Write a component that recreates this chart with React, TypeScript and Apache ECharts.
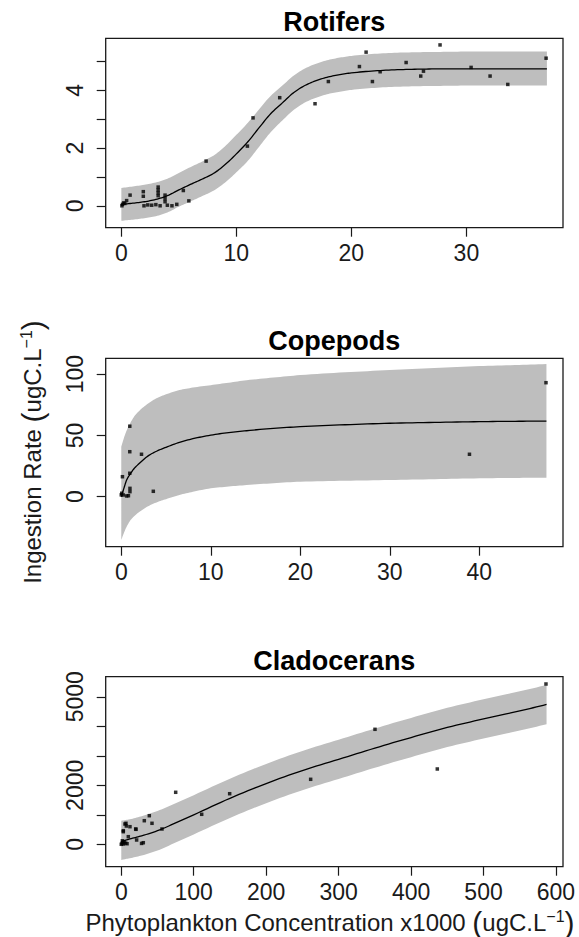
import React, { useEffect, useRef } from "react";
import * as echarts from "echarts";

// ---------- Rotifers ----------
const rotX = [0, 1, 2, 3, 4, 5, 6, 7, 8, 9, 10, 11, 12, 13, 14, 15, 16, 17, 18, 19, 20, 22, 24, 26, 28, 30, 33, 37];
const rotFit = [0.05, 0.09, 0.14, 0.22, 0.35, 0.55, 0.74, 0.92, 1.12, 1.42, 1.8, 2.22, 2.72, 3.2, 3.57, 3.93, 4.18, 4.35, 4.47, 4.55, 4.61, 4.68, 4.72, 4.74, 4.75, 4.75, 4.75, 4.75];
const rotUpper = [0.62, 0.67, 0.73, 0.81, 0.94, 1.14, 1.34, 1.53, 1.74, 2.06, 2.46, 2.88, 3.36, 3.82, 4.17, 4.52, 4.77, 4.94, 5.06, 5.14, 5.2, 5.27, 5.31, 5.33, 5.34, 5.35, 5.35, 5.35];
const rotLower = [-0.52, -0.48, -0.43, -0.36, -0.23, -0.03, 0.15, 0.33, 0.52, 0.8, 1.16, 1.56, 2.06, 2.56, 2.96, 3.33, 3.59, 3.76, 3.88, 3.96, 4.02, 4.09, 4.13, 4.15, 4.16, 4.17, 4.17, 4.17];
const rotPoints = [
  [36.93, 5.12], [27.71, 5.58], [21.28, 5.33], [20.7, 4.83], [24.76, 4.97], [21.83, 4.31], [22.5, 4.65],
  [26.03, 4.5], [26.27, 4.67], [30.41, 4.8], [32.06, 4.5], [33.6, 4.21], [18.0, 4.31], [16.84, 3.54],
  [13.77, 3.75], [11.45, 3.05], [10.96, 2.07], [7.37, 1.55], [5.39, 0.53], [5.87, 0.17],
  [0.76, 0.37], [1.91, 0.49], [1.91, 0.33], [3.2, 0.65], [3.2, 0.55], [3.2, 0.45], [3.2, 0.35],
  [3.8, 0.37], [3.8, 0.25], [3.8, 0.14], [0.46, 0.18], [0.1, 0.05], [0.2, 0.1], [0.3, 0.08],
  [1.97, 0.0], [2.64, 0.02], [3.37, 0.0], [4.0, 0.02], [4.4, 0.0], [4.82, 0.05], [2.3, 0.03], [3.0, 0.04], [0.05, 0.0],
];
const rotXTicks = [0, 10, 20, 30];
const rotYTicks = [0, 1, 2, 3, 4, 5];
const rotYLabels = [0, 2, 4];

// ---------- Copepods ----------
const copX = [0, 0.3, 0.6, 1, 1.5, 2, 3, 4, 5, 6.5, 8, 10, 12, 14, 17, 20, 25, 30, 35, 40, 44, 47.5];
const copFit = [0, 7, 13.6, 18.5, 23.5, 27, 33.3, 37.3, 40.3, 44.3, 47.3, 50.2, 52.3, 53.8, 55.8, 57.1, 58.7, 59.9, 60.6, 61.2, 61.5, 61.7];
const copUpper = [40.8, 48, 54, 60, 66, 70, 76, 80.5, 83.5, 87, 89, 91, 93, 95, 97.2, 99.2, 101.5, 103.3, 105, 106.6, 107.4, 108.2];
const copLower = [-35.3, -29.5, -24.5, -19.5, -15.5, -12.5, -7.8, -4.5, -2, 1.4, 4, 6.8, 8.3, 9.5, 11, 12.2, 13, 13.6, 14.3, 15, 15.3, 15.5];
const copPoints = [
  [47.45, 93], [38.9, 34.6], [0.95, 57.5], [0.95, 36.7], [2.26, 34.6], [0.13, 16.3], [0.95, 19.1],
  [3.58, 4.4], [0.05, 2.8], [0.0, 1.5], [0.22, 1.4], [0.6, 0.6], [0.97, 6.8], [0.97, 4.1], [0.8, 0.8],
];
const copXTicks = [0, 10, 20, 30, 40];
const copYTicks = [0, 50, 100];

// ---------- Cladocerans ----------
const cladX = [0, 10, 25, 50, 75, 100, 150, 200, 250, 300, 350, 400, 450, 500, 550, 587];
const cladFit = [100, 170, 265, 460, 725, 1000, 1560, 2060, 2500, 2880, 3260, 3620, 3960, 4250, 4520, 4740];
const cladUpper = [800, 840, 930, 1130, 1390, 1665, 2225, 2725, 3165, 3545, 3925, 4285, 4625, 4915, 5185, 5400];
const cladLower = [-530, -480, -400, -210, 60, 335, 895, 1395, 1835, 2215, 2595, 2955, 3295, 3585, 3855, 4070];
const cladPoints = [
  [586.2, 5434], [350.2, 3898], [436.2, 2553], [261.4, 2203], [149.6, 1715], [75.1, 1763], [111, 1017],
  [56.2, 519], [38.7, 970], [31.8, 800], [42.4, 712], [19.9, 519], [12, 597], [6.5, 712], [5.1, 688],
  [7, 620], [2.8, 461], [2.8, 427], [9.7, 258], [21.2, 146], [20.3, 508], [30.4, 54], [28, 30],
  [0, 0], [1, 30], [2, 60], [3, 10], [4, 80], [6, 40], [8, 20], [1.5, 120],
];
const cladXTicks = [0, 100, 200, 300, 400, 500, 600];
const cladYTicks = [0, 1000, 2000, 3000, 4000, 5000];
const cladYLabels = [0, 2000, 5000];

const titles = ["Rotifers", "Copepods", "Cladocerans"];

const FONT = "'Liberation Sans', Arial, Helvetica, sans-serif";

const panels = [
  { xs: rotX, fit: rotFit, up: rotUpper, lo: rotLower, pts: rotPoints, xt: rotXTicks, yt: rotYTicks, yl: rotYLabels,
    xmin: -1.36, xmax: 38.4, ymin: -0.76, ymax: 5.81, top: 38.3, h: 189.4, titleY: 22 },
  { xs: copX, fit: copFit, up: copUpper, lo: copLower, pts: copPoints, xt: copXTicks, yt: copYTicks, yl: copYTicks,
    xmin: -1.74, xmax: 49.35, ymin: -40.8, ymax: 112.9, top: 358.3, h: 188.4, titleY: 341 },
  { xs: cladX, fit: cladFit, up: cladUpper, lo: cladLower, pts: cladPoints, xt: cladXTicks, yt: cladYTicks, yl: cladYLabels,
    xmin: -21.5, xmax: 609.7, ymin: -759, ymax: 5681, top: 676.7, h: 190, titleY: 661 },
];

const LEFT = 105.7;
const WIDTH = 457.3;

// monotone cubic smoothing of a curve in pixel space (display only)
function smoothEdge(pts: number[][], n = 8): number[][] {
  const N = pts.length;
  if (N < 3) return pts;
  const dx: number[] = [];
  const m: number[] = [];
  for (let i = 0; i < N - 1; i++) {
    dx[i] = pts[i + 1][0] - pts[i][0];
    m[i] = dx[i] === 0 ? 0 : (pts[i + 1][1] - pts[i][1]) / dx[i];
  }
  const t: number[] = new Array(N);
  t[0] = m[0];
  t[N - 1] = m[N - 2];
  for (let i = 1; i < N - 1; i++) {
    if (m[i - 1] * m[i] <= 0) t[i] = 0;
    else t[i] = (3 * (dx[i - 1] + dx[i])) / ((2 * dx[i] + dx[i - 1]) / m[i - 1] + (dx[i] + 2 * dx[i - 1]) / m[i]);
  }
  const out: number[][] = [pts[0]];
  for (let i = 0; i < N - 1; i++) {
    const y0 = pts[i][1];
    const y1 = pts[i + 1][1];
    for (let s = 1; s <= n; s++) {
      const u = s / n;
      const h00 = 2 * u * u * u - 3 * u * u + 1;
      const h10 = u * u * u - 2 * u * u + u;
      const h01 = -2 * u * u * u + 3 * u * u;
      const h11 = u * u * u - u * u;
      out.push([
        pts[i][0] + u * dx[i],
        h00 * y0 + h10 * dx[i] * t[i] + h01 * y1 + h11 * dx[i] * t[i + 1],
      ]);
    }
  }
  return out;
}

export default function App() {
  const ref = useRef<HTMLDivElement>(null);
  useEffect(() => {
    if (!ref.current) return;
    const chart = echarts.init(ref.current, undefined, { renderer: "svg" });
    const grid: any[] = [];
    const xAxis: any[] = [];
    const yAxis: any[] = [];
    const series: any[] = [];
    const graphic: any[] = [];
    panels.forEach((p, i) => {
      grid.push({
        left: LEFT, top: p.top, width: WIDTH, height: p.h, show: true,
        borderColor: "#1a1a1a", borderWidth: 1.3, backgroundColor: "transparent", containLabel: false,
      });
      xAxis.push({
        type: "value", gridIndex: i, min: p.xmin, max: p.xmax,
        axisLine: { show: false, onZero: false }, splitLine: { show: false },
        axisTick: { show: true, inside: false, length: 9, lineStyle: { color: "#1a1a1a", width: 1.2 }, customValues: p.xt },
        axisLabel: { customValues: p.xt, fontSize: 23, color: "#1a1a1a", fontFamily: FONT, margin: 14, formatter: (v: number) => String(v) },
      });
      yAxis.push({
        type: "value", gridIndex: i, min: p.ymin, max: p.ymax,
        axisLine: { show: false, onZero: false }, splitLine: { show: false },
        axisTick: { show: true, inside: false, length: 9, lineStyle: { color: "#1a1a1a", width: 1.2 }, customValues: p.yt },
        axisLabel: { customValues: p.yl, fontSize: 23, color: "#1a1a1a", fontFamily: FONT, rotate: 90, margin: 19, formatter: (v: number) => String(v) },
      });
      // confidence band
      series.push({
        type: "custom", xAxisIndex: i, yAxisIndex: i, silent: true, z: 1,
        data: [[p.xs[0], p.fit[0]]],
        renderItem: (params: any, api: any) => {
          const upPx = p.xs.map((x, k) => api.coord([x, p.up[k]]));
          const loPx = p.xs.map((x, k) => api.coord([x, p.lo[k]]));
          const pts = smoothEdge(upPx).concat(smoothEdge(loPx).reverse());
          return { type: "polygon", shape: { points: pts }, style: { fill: "#bebebe", stroke: "none" } };
        },
      });
      // fitted curve
      series.push({
        type: "custom", xAxisIndex: i, yAxisIndex: i, silent: true, z: 2,
        data: [[p.xs[0], p.fit[0]]],
        renderItem: (params: any, api: any) => {
          const fitPx = p.xs.map((x, k) => api.coord([x, p.fit[k]]));
          return {
            type: "polyline", shape: { points: smoothEdge(fitPx) },
            style: { stroke: "#000", lineWidth: 1.3, fill: "none" },
          };
        },
      });
      series.push({
        type: "scatter", xAxisIndex: i, yAxisIndex: i, data: p.pts,
        symbol: "rect", symbolSize: 3.5, itemStyle: { color: "#000" }, silent: true, z: 3,
      });
      graphic.push({
        type: "text", x: LEFT + WIDTH / 2, y: p.titleY,
        style: { text: titles[i], fontSize: 27, fontWeight: "bold", fontFamily: FONT, fill: "#000", textAlign: "center", textVerticalAlign: "middle" },
      });
    });
    const rich = {
      t: { fontSize: 24, fontFamily: FONT, fill: "#1a1a1a" },
      p: { fontSize: 30, fontFamily: FONT, fill: "#1a1a1a" },
      s: { fontSize: 16, fontFamily: FONT, fill: "#1a1a1a", padding: [0, 0, 12, 0] },
    };
    graphic.push({
      type: "text", x: 330, y: 922,
      style: {
        text: "{t|Phytoplankton Concentration x1000 }{p|(}{t|ugC.L}{s|−1}{p|)}",
        textAlign: "center", textVerticalAlign: "middle", fill: "#1a1a1a", rich,
      },
    });
    graphic.push({
      type: "text", x: 32, y: 452, rotation: Math.PI / 2,
      style: {
        text: "{t|Ingestion Rate }{p|(}{t|ugC.L}{s|−1}{p|)}",
        textAlign: "center", textVerticalAlign: "middle", fill: "#1a1a1a", rich,
      },
    });
    chart.setOption({
      animation: false,
      backgroundColor: "#fff",
      grid, xAxis, yAxis, series, graphic,
    });
    return () => chart.dispose();
  }, []);
  return (
    <div
      ref={ref}
      style={{ position: "absolute", left: 0, top: 0, width: 579, height: 937 }}
    />
  );
}
